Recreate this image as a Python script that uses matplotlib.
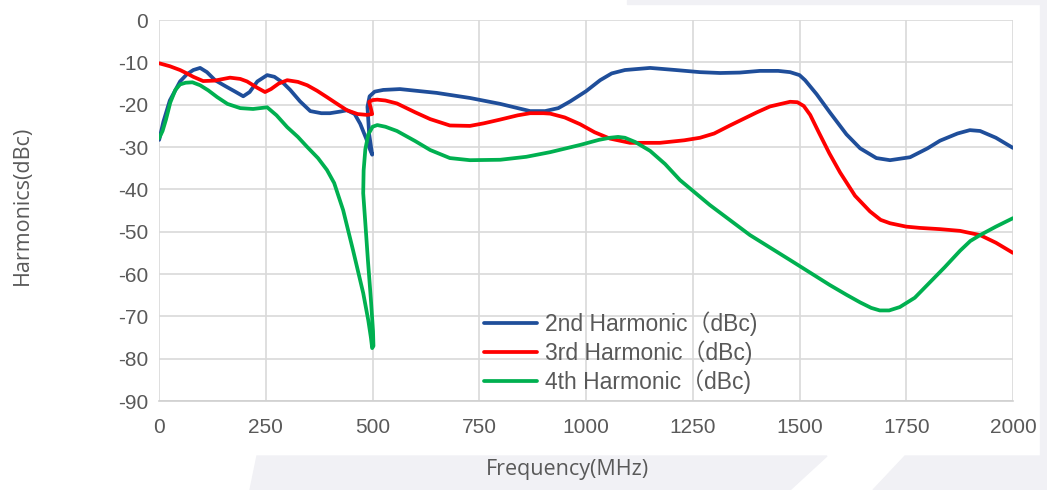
import matplotlib.pyplot as plt
from matplotlib.patches import Polygon

# values (MHz, dBc)
freq_2nd = [0, 10, 25, 49, 65, 80, 96, 112, 131, 155, 178, 197, 212, 230, 253, 270,
            290, 307, 330, 354, 380, 400, 425, 440, 458, 471, 485, 494, 499, 492,
            488, 493, 505, 525, 564, 650, 728, 799, 840, 869, 904, 935, 963, 1000,
            1033, 1060, 1091, 1150, 1210, 1267, 1314, 1360, 1407, 1450, 1478, 1500,
            1513, 1540, 1571, 1610, 1642, 1680, 1712, 1759, 1800, 1829, 1870, 1899,
            1923, 1960, 2000]
harm_2nd = [-28.3, -24, -19, -14.5, -12.8, -11.8, -11.3, -12.3, -14.2, -15.6, -16.9,
            -18.0, -17.0, -14.5, -13.0, -13.4, -14.8, -16.5, -19.2, -21.5, -22.0,
            -22.0, -21.6, -21.3, -22.2, -24.5, -28.0, -30.6, -31.8, -27.0, -20.5,
            -18.0, -16.9, -16.5, -16.3, -17.2, -18.4, -19.8, -20.8, -21.5, -21.5,
            -20.8, -19.2, -16.8, -14.2, -12.6, -11.8, -11.3, -11.8, -12.3, -12.5,
            -12.4, -12.0, -12.0, -12.3, -13.0, -14.2, -17.5, -21.8, -27.0, -30.3,
            -32.6, -33.1, -32.4, -30.3, -28.5, -26.8, -26.0, -26.2, -27.8, -30.2]

freq_3rd = [0, 25, 49, 65, 80, 103, 130, 166, 190, 206, 230, 248, 262, 280, 300, 325,
            347, 370, 393, 420, 440, 465, 487, 499, 495, 492, 500, 511, 530, 557,
            600, 635, 681, 728, 760, 799, 840, 869, 900, 916, 950, 986, 1020, 1056,
            1103, 1173, 1230, 1267, 1300, 1337, 1400, 1431, 1478, 1495, 1510, 1525,
            1545, 1570, 1595, 1630, 1665, 1690, 1712, 1750, 1782, 1830, 1876, 1923,
            1960, 2000]
harm_3rd = [-10.2, -10.9, -11.8, -12.6, -13.4, -14.4, -14.3, -13.6, -13.9, -14.5,
            -16.0, -17.0, -16.3, -15.0, -14.2, -14.6, -15.4, -16.7, -18.2, -20.0,
            -21.3, -22.2, -22.4, -22.2, -20.5, -19.3, -18.9, -18.8, -19.0, -19.7,
            -21.8, -23.4, -24.9, -25.0, -24.4, -23.5, -22.5, -22.0, -22.0, -22.1,
            -23.0, -24.6, -26.5, -28.0, -29.0, -29.0, -28.4, -27.8, -26.8, -24.9,
            -21.8, -20.4, -19.3, -19.4, -20.3, -22.4, -26.5, -31.5, -36.0, -41.5,
            -45.2, -47.2, -48.0, -48.8, -49.1, -49.4, -49.8, -50.8, -52.6, -55]

freq_4th = [0, 8, 16, 26, 38, 49, 62, 78, 96, 115, 136, 160, 190, 220, 253, 275, 300,
            325, 347, 372, 393, 410, 431, 454, 478, 490, 496, 499, 502, 501, 496,
            489, 483, 478, 479, 483, 490, 500, 511, 530, 557, 600, 635, 681, 728,
            799, 860, 916, 986, 1030, 1056, 1075, 1091, 1115, 1150, 1185, 1220,
            1290, 1384, 1478, 1571, 1610, 1642, 1668, 1688, 1710, 1735, 1770, 1805,
            1840, 1876, 1900, 1923, 1960, 2000]
harm_4th = [-27.9, -26.2, -23.5, -19.5, -16.5, -15.2, -14.8, -14.7, -15.4, -16.6,
            -18.2, -19.8, -20.8, -21.0, -20.6, -22.5, -25.3, -27.6, -30.0, -32.6,
            -35.4, -38.5, -44.9, -54.3, -64.5, -71.0, -75.0, -77.5, -77.0, -73.5,
            -66.0, -56.7, -48.0, -40.9, -35.5, -30.5, -27.0, -25.2, -24.8, -25.2,
            -26.2, -28.6, -30.7, -32.6, -33.1, -33.0, -32.3, -31.2, -29.5, -28.3,
            -27.8, -27.6, -27.8, -28.8, -30.9, -34.0, -37.8, -43.7, -50.8, -56.7,
            -62.6, -64.9, -66.7, -68.0, -68.6, -68.6, -67.8, -65.6, -62.0, -58.4,
            -54.5, -52.2, -50.8, -48.8, -46.8]

series = [
    ("2nd Harmonic\uff08dBc)", freq_2nd, harm_2nd, "#1f4e9a"),
    ("3rd Harmonic\uff08dBc)", freq_3rd, harm_3rd, "#ff0000"),
    ("4th Harmonic\uff08dBc)", freq_4th, harm_4th, "#00b050"),
]

x_ticks = [0, 250, 500, 750, 1000, 1250, 1500, 1750, 2000]
y_ticks = [0, -10, -20, -30, -40, -50, -60, -70, -80, -90]

plt.rcParams['font.family'] = ['Liberation Sans', 'Noto Sans CJK SC', 'DejaVu Sans']
plt.rcParams['axes.unicode_minus'] = False

fig = plt.figure(figsize=(10.47, 4.9), dpi=100)

# faint watermark shapes in the background
bg = "#f1f1f5"
band_h = 34 / 490
for pts in ([[250, 0], [257, band_h], [827, band_h], [790, 0]],
            [[873, 0], [905, band_h], [1047, band_h], [1047, 0]]):
    poly = [[p[0] / 1047, p[1]] for p in pts]
    fig.patches.append(Polygon(poly, closed=True, transform=fig.transFigure,
                               color=bg, zorder=-5))
fig.patches.append(Polygon([[627 / 1047, 1], [1, 1], [1, 0.06], [1040 / 1047, 0.06],
                            [1040 / 1047, 1 - 4 / 490], [627 / 1047, 1 - 4 / 490]],
                           closed=True, transform=fig.transFigure, color=bg, zorder=-5))

ax = fig.add_axes([0.152, 0.1816, 0.8155, 0.7774])
ax.patch.set_alpha(0)

for label, xs, ys, col in series:
    ax.plot(xs, ys, color=col, lw=2.7, label=label, solid_joinstyle='round',
            solid_capstyle='round')

ax.set_xlim(0, 2000)
ax.set_ylim(-90, 0)
ax.set_xticks(x_ticks)
ax.set_yticks(y_ticks)
ax.grid(True, color="#d9d9d9", lw=1.2)
ax.set_axisbelow(True)
for s in ["top", "right", "left"]:
    ax.spines[s].set_visible(False)
ax.spines["bottom"].set_color("#d0d0d0")
ax.spines["bottom"].set_linewidth(1.2)
ax.tick_params(length=0, labelsize=15, colors="#595959")
ax.tick_params(axis="y", pad=8)
ax.tick_params(axis="x", pad=12)

ax.set_xlabel("Frequency(MHz)", fontsize=15.5, color="#595959",
              family=["Open Sans", "DejaVu Sans"])
ax.set_ylabel("Harmonics(dBc)", fontsize=15.5, color="#595959",
              family=["Open Sans", "DejaVu Sans"])
ax.xaxis.set_label_coords((567 - 159) / 854, (401 - 459) / 381)
ax.yaxis.set_label_coords((33 - 159) / 854, (401 - 205) / 381)

ax.legend(loc="upper left", bbox_to_anchor=(0.362, 0.278), frameon=False,
          fontsize=16.5, handlelength=2.3, handletextpad=0.35, labelspacing=0.2,
          borderpad=0.2, labelcolor="#595959")

fig.savefig("out.png", dpi=100)
